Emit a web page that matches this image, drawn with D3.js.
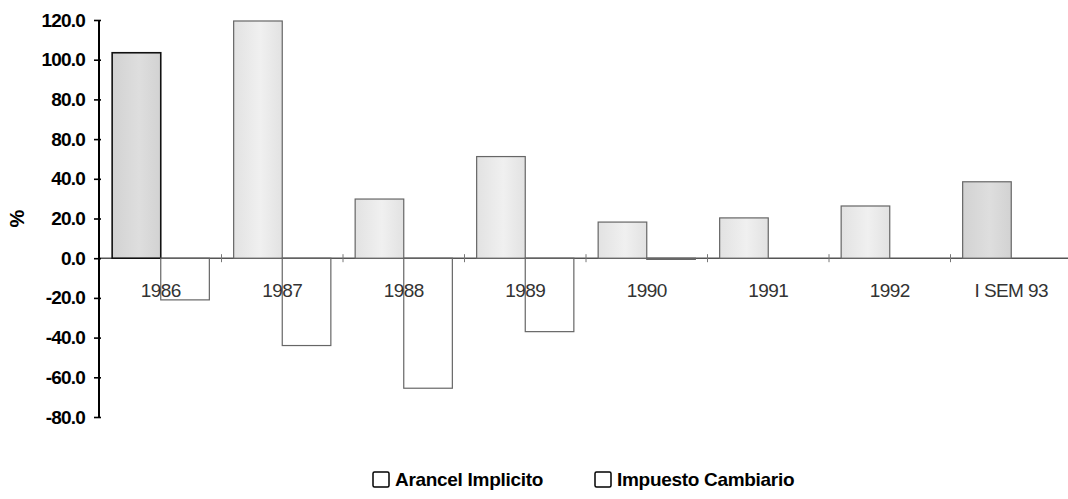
<!DOCTYPE html>
<html>
<head>
<meta charset="utf-8">
<script src="https://cdn.jsdelivr.net/npm/d3@7"></script>
<style>
  body { margin: 0; background: #fff; }
  svg { display: block; font-family: "Liberation Sans", Arial, sans-serif; }
</style>
</head>
<body>
<script>
// データ
const categories = ["1986", "1987", "1988", "1989", "1990", "1991", "1992", "I SEM 93"];
const series = ["Arancel Implicito", "Impuesto Cambiario"];
const arancel = [103.5, 119.5, 29.8, 51.2, 18.2, 20.3, 26.3, 38.5];
const impuesto = [-21.0, -44.0, -65.5, -37.0, -0.6, 0, 0, 0];
const tickValues = [120, 100, 80, 60, 40, 20, 0, -20, -40, -60, -80];
const tickLabels = ["120.0", "100.0", "80.0", "80.0", "40.0", "20.0", "0.0", "-20.0", "-40.0", "-60.0", "-80.0"];

const width = 1068, height = 499;
const svg = d3.select("body").append("svg")
    .attr("width", width)
    .attr("height", height);

// グラデーション (スキャン風の灰色)
const defs = svg.append("defs");
const grad = (id, edge, mid) => {
    const g = defs.append("linearGradient").attr("id", id)
        .attr("x1", "0").attr("x2", "1").attr("y1", "0").attr("y2", "0");
    g.append("stop").attr("offset", "0%").attr("stop-color", edge);
    g.append("stop").attr("offset", "55%").attr("stop-color", mid);
    g.append("stop").attr("offset", "100%").attr("stop-color", edge);
};
grad("gLight", "#e2e2e2", "#f0f0f0");
grad("gDark", "#d2d2d2", "#dedede");
const darker = new Set(["1986", "I SEM 93"]);

// スケール
const y = d3.scaleLinear().domain([-80, 120]).range([417, 20]);
const x0 = d3.scaleBand().domain(categories).range([100, 1072]);
const x1 = d3.scaleBand().domain(series).range([0, x0.bandwidth()]).paddingOuter(0.25);

const rows = categories.map((c, i) => ({ cat: c, values: [arancel[i], impuesto[i]] }));

// X軸 (ゼロライン)
svg.append("line")
    .attr("x1", 99).attr("x2", width)
    .attr("y1", y(0)).attr("y2", y(0))
    .attr("stroke", "#555").attr("stroke-width", 1.5);

// 区切りの目盛り
svg.append("g")
  .selectAll("line")
  .data(categories.slice(1))
  .join("line")
    .attr("x1", d => x0(d)).attr("x2", d => x0(d))
    .attr("y1", y(0) - 4).attr("y2", y(0) + 4)
    .attr("stroke", "#777").attr("stroke-width", 1);

// 棒
const groups = svg.append("g")
  .selectAll("g")
  .data(rows)
  .join("g")
    .attr("transform", d => `translate(${x0(d.cat)},0)`);

groups.selectAll("rect")
  .data(d => d.values.map((v, j) => ({ cat: d.cat, key: series[j], value: v })))
  .join("rect")
    .filter(d => d.value !== 0)
    .attr("x", d => x1(d.key))
    .attr("width", x1.bandwidth())
    .attr("y", d => y(Math.max(0, d.value)))
    .attr("height", d => Math.abs(y(d.value) - y(0)))
    .attr("fill", d => d.key === series[0] ? (darker.has(d.cat) ? "url(#gDark)" : "url(#gLight)") : "#fff")
    .attr("fill-opacity", d => d.key === series[0] ? 1 : 0)
    .attr("stroke", d => d.cat === "1986" && d.key === series[0] ? "#111" : "#666")
    .attr("stroke-width", d => d.cat === "1986" && d.key === series[0] ? 1.6 : 1.2);

// カテゴリラベル
svg.append("g")
    .attr("text-anchor", "middle")
    .attr("fill", "#333")
    .attr("font-size", 19)
    .attr("letter-spacing", -0.6)
  .selectAll("text")
  .data(categories)
  .join("text")
    .attr("x", d => x0(d) + x0.bandwidth() / 2)
    .attr("y", 297)
    .text(d => d);

// Y軸
svg.append("g")
    .attr("transform", "translate(99,0)")
    .call(d3.axisLeft(y)
        .tickValues(tickValues)
        .tickFormat((d, i) => tickLabels[i])
        .tickSize(5)
        .tickPadding(9))
    .call(g => g.select(".domain").attr("stroke", "#000").attr("stroke-width", 2)
        .attr("d", `M0,${y(120)}V${y(-80)}`))
    .call(g => g.selectAll(".tick line").attr("stroke", "#000").attr("stroke-width", 1.6)
        .attr("x2", -5).attr("x1", 2))
    .call(g => g.selectAll(".tick text")
        .attr("font-family", "'Liberation Sans', Arial, sans-serif")
        .attr("font-size", 19)
        .attr("font-weight", "bold")
        .attr("letter-spacing", -0.8)
        .attr("fill", "#000"));

// 軸タイトル
svg.append("text")
    .attr("transform", `translate(24,${y(20)}) rotate(-90)`)
    .attr("text-anchor", "middle")
    .attr("font-size", 20)
    .attr("font-weight", "bold")
    .text("%");

// 凡例
const legend = svg.append("g")
    .attr("font-size", 19)
    .attr("font-weight", "bold")
    .attr("letter-spacing", -0.3);
const legendX = [373, 595];
series.forEach((s, i) => {
    legend.append("rect")
        .attr("x", legendX[i]).attr("y", 472)
        .attr("width", 16).attr("height", 15)
        .attr("rx", 1.5)
        .attr("fill", "#fff").attr("stroke", "#000").attr("stroke-width", 1.5);
    legend.append("text")
        .attr("x", legendX[i] + 22).attr("y", 486)
        .text(s);
});
</script>
</body>
</html>
